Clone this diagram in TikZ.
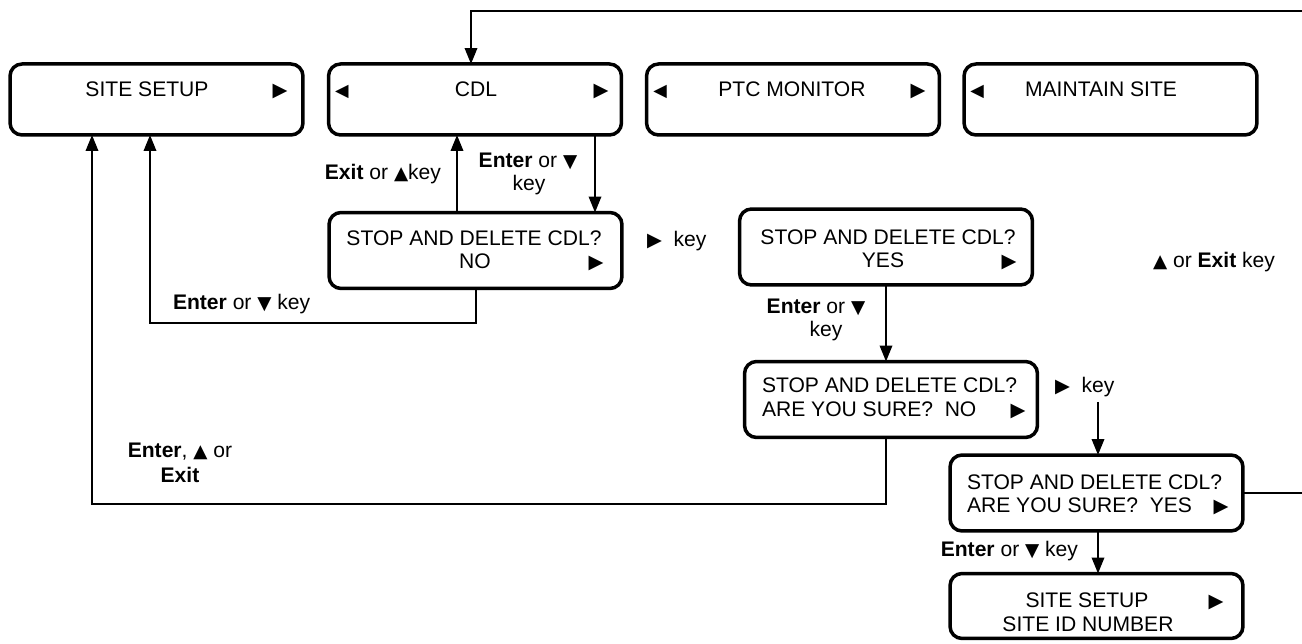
\documentclass[tikz,border=0pt]{standalone}
\usepackage{fontspec}
\setmainfont{Liberation Sans}
\newfontfamily\symf{DejaVu Sans}
\usetikzlibrary{arrows.meta}
\newcommand{\rtri}{{\symf\fontsize{11}{11}\selectfont ▶}}
\newcommand{\ltri}{{\symf\fontsize{10}{10}\selectfont ◀}}
\newcommand{\utri}{{\symf\fontsize{10.5}{10.5}\selectfont ▲}}
\newcommand{\dtri}{{\symf\fontsize{10.5}{10.5}\selectfont ▼}}
\begin{document}
\begin{tikzpicture}[x=0.02cm,y=-0.02cm,
  every node/.style={font=\fontsize{12}{13}\selectfont, inner sep=0pt, outer sep=0pt},
  box/.style={draw, line width=0.07cm, rounded corners=0.24cm, minimum width=5.86cm},
  topbox/.style={box, minimum height=1.42cm},
  midbox/.style={box, minimum height=1.52cm},
  lowbox/.style={box, minimum height=1.3cm},
  conn/.style={line width=0.038cm},
  arr/.style={conn, -{Triangle[length=0.32cm,width=0.25cm]}},
  txt/.style={anchor=base},
  txtl/.style={anchor=base west},
  txtr/.style={anchor=base east}
]
\useasboundingbox (0,0) rectangle (1302,644);

% top row boxes
\node[topbox] (b1) at (156.5,99.5) {};
\node[topbox] (b2) at (475,99.5) {};
\node[topbox] (b3) at (793,99.5) {};
\node[topbox] (b4) at (1110.5,99.5) {};

\node[txt] (b1t) at (147,97) {SITE SETUP};
\node[txt] (b1r) at (280,97) {\rtri};
\node[txt] (b2l) at (342,97) {\ltri};
\node[txt] (b2t) at (476,97) {CDL};
\node[txt] (b2r) at (601,97) {\rtri};
\node[txt] (b3l) at (660,97) {\ltri};
\node[txt] (b3t) at (792,97) {PTC MONITOR};
\node[txt] (b3r) at (918,97) {\rtri};
\node[txt] (b4l) at (977,97) {\ltri};
\node[txt] (b4t) at (1101,97) {MAINTAIN SITE};

% middle boxes
\node[midbox] (no) at (475.5,250.5) {};
\node[txt] (no1) at (474,246) {STOP AND DELETE CDL?};
\node[txt] (no2) at (475,269) {NO};
\node[txt] (nor) at (596,269) {\rtri};

\node[midbox] (yes) at (886,247) {};
\node[txt] (yes1) at (888,245) {STOP AND DELETE CDL?};
\node[txt] (yes2) at (883,268) {YES};
\node[txt] (yesr) at (1009,268) {\rtri};

\node[midbox] (ayn) at (891,399.5) {};
\node[txtl] (ayn1) at (762,393) {STOP AND DELETE CDL?};
\node[txtl] (ayn2) at (762,417) {ARE YOU SURE?\ \ NO};
\node[txt] (aynr) at (1018,417) {\rtri};

\node[midbox] (ayy) at (1096.5,493) {};
\node[txtl] (ayy1) at (967,490) {STOP AND DELETE CDL?};
\node[txtl] (ayy2) at (967,513) {ARE YOU SURE?\ \ YES};
\node[txt] (ayyr) at (1221,513) {\rtri};

\node[lowbox] (fin) at (1096.5,606) {};
\node[txt] (fin1) at (1087,608) {SITE SETUP};
\node[txt] (finr) at (1216,608) {\rtri};
\node[txt] (fin2) at (1088,632) {SITE ID NUMBER};

% labels
\node[txtr] (l1) at (441,180) {\textbf{Exit} or \utri key};
\node[txt] (l2a) at (528,168) {\textbf{Enter} or \dtri};
\node[txt] (l2b) at (529,191) {key};
\node[txtl] (l3) at (173,310) {\textbf{Enter} or \dtri\ key};
\node[txtl] (l4) at (647,247) {\rtri\ \ key};
\node[txt] (l5a) at (816,314) {\textbf{Enter} or \dtri};
\node[txt] (l5b) at (826,337) {key};
\node[txtl] (l6) at (1153,268) {\utri\ or \textbf{Exit} key};
\node[txtl] (l7) at (1055,393) {\rtri\ \ key};
\node[txt] (l8a) at (180,458) {\textbf{Enter}, \utri\ or};
\node[txt] (l8b) at (180,483) {\textbf{Exit}};
\node[txtr] (l9) at (1078,557) {\textbf{Enter} or \dtri\ key};

% column coordinates
\coordinate (c92) at (92,0);
\coordinate (c150) at (150,0);
\coordinate (c457) at (457,0);
\coordinate (c476) at (476,0);
\coordinate (c595) at (595,0);
\coordinate (c886) at (886,0);
\coordinate (c1098) at (1098,0);
\coordinate (ttop) at (471,11);
\coordinate (tr) at (1305,11);
\coordinate (yr) at (1305,493);
\coordinate (r1098) at (1098,402);
\coordinate (k323) at (0,323);
\coordinate (k504) at (0,504);

% connectors
\draw[arr] (ayy.east) -- (yr) -- (tr) -- (ttop) -- (ttop |- b2.north);
\draw[arr] (b2.south -| c595) -- (no.north -| c595);
\draw[arr] (no.north -| c457) -- (b2.south -| c457);
\draw[arr] (no.south -| c476) -- (k323 -| c476) -- (k323 -| c150) -- (b1.south -| c150);
\draw[arr] (ayn.south -| c886) -- (k504 -| c886) -- (k504 -| c92) -- (b1.south -| c92);
\draw[arr] (yes.south -| c886) -- (ayn.north -| c886);
\draw[arr] (r1098) -- (ayy.north -| c1098);
\draw[arr] (ayy.south -| c1098) -- (fin.north -| c1098);
\end{tikzpicture}
\end{document}
